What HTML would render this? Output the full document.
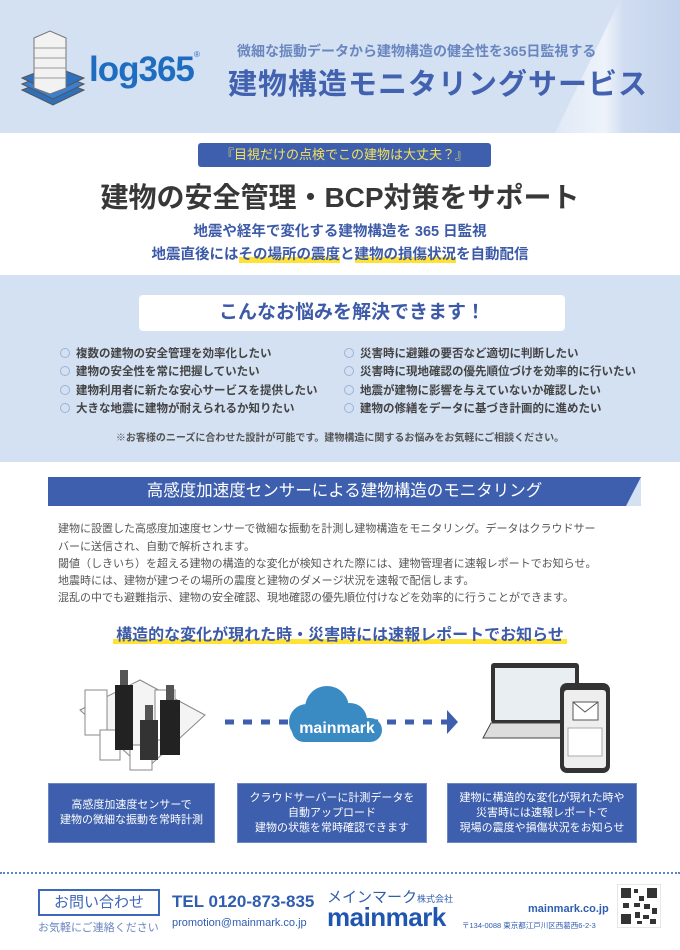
<!DOCTYPE html>
<html><head><meta charset="utf-8"><style>
*{margin:0;padding:0;box-sizing:border-box}
body{width:680px;height:950px;position:relative;background:#fff;font-family:"Liberation Sans","Noto Sans CJK JP",sans-serif;overflow:hidden}
.a{position:absolute;white-space:nowrap}
.li{position:absolute;font-size:11.5px;color:#444;font-weight:bold;white-space:nowrap}
.li:before{content:"";display:inline-block;width:8px;height:8px;border:1px solid #9db3d8;border-radius:50%;margin-right:6px;vertical-align:-1px}
.p{position:absolute;left:58px;font-size:11px;color:#555;white-space:nowrap}
.box{position:absolute;top:783px;height:60px;background:#3d5fae;color:#fff;font-size:11px;line-height:15px;text-align:center;display:flex;align-items:center;justify-content:center;border:1px solid #6c87c4}
.hl{background:linear-gradient(transparent 62%,#ffe233 62%)}
</style></head><body>
<div class="a" style="left:0;top:0;width:680px;height:133px;background:#d3e1f3"></div>
<svg class="a" style="left:0;top:0" width="680" height="133"><defs><linearGradient id="g" x1="0" x2="1"><stop offset="0" stop-color="#dfe9f6"/><stop offset="0.4" stop-color="#eef3fa"/><stop offset="0.55" stop-color="#d0ddf1"/><stop offset="1" stop-color="#c3d3ec"/></linearGradient></defs><polygon points="555,133 620,0 680,0 680,133" fill="url(#g)"/></svg>
<svg class="a" style="left:18px;top:30px" width="70" height="80" viewBox="0 0 70 80">
<polygon points="4,60 35,48 66,60 35,75" fill="#2f70bd" stroke="#555" stroke-width="1"/>
<polygon points="4,54 35,42 66,54 35,69" fill="#3b7fd0" stroke="#555" stroke-width="1"/>
<polygon points="4,48 35,36 66,48 35,63" fill="#2f70bd" stroke="#555" stroke-width="1"/>
<polygon points="16,8 32,1 48,8 48,58 32,64 16,58" fill="#f2f2f2" stroke="#777"/>
<line x1="16" y1="18" x2="48" y2="18" stroke="#999"/><line x1="16" y1="28" x2="48" y2="28" stroke="#999"/><line x1="16" y1="38" x2="48" y2="38" stroke="#999"/><line x1="16" y1="48" x2="48" y2="48" stroke="#999"/>
</svg>
<div class="a" style="left:89px;top:50px;font-size:35px;font-weight:bold;color:#1f6dc0;letter-spacing:-1px">log365</div>
<div class="a" style="left:194px;top:50px;font-size:8px;color:#1f6dc0">®</div>
<div class="a" style="left:237px;top:41px;font-size:14px;color:#6a86bf;font-weight:bold">微細な振動データから建物構造の健全性を365日監視する</div>
<div class="a" style="left:228px;top:61px;font-size:29px;font-weight:bold;color:#4262b0;letter-spacing:1px">建物構造モニタリングサービス</div>

<div class="a" style="left:198px;top:143px;width:293px;height:24px;background:#3d5fae;border-radius:3px;color:#f5e15a;font-size:13px;text-align:center;line-height:24px">『目視だけの点検でこの建物は大丈夫？』</div>
<div class="a" style="left:0;top:176px;width:680px;text-align:center;font-size:28px;font-weight:bold;color:#383838">建物の安全管理・BCP対策をサポート</div>
<div class="a" style="left:0;top:220px;width:680px;text-align:center;font-size:14.5px;font-weight:bold;color:#3c5aa8">地震や経年で変化する建物構造を 365 日監視</div>
<div class="a" style="left:0;top:243px;width:680px;text-align:center;font-size:14.5px;font-weight:bold;color:#3c5aa8">地震直後には<span class="hl">その場所の震度</span>と<span class="hl">建物の損傷状況</span>を自動配信</div>

<div class="a" style="left:0;top:275px;width:680px;height:187px;background:#d3e1f3"></div>
<div class="a" style="left:139px;top:295px;width:426px;height:36px;background:#fff;border-radius:4px;text-align:center;line-height:36px;font-size:19px;font-weight:bold;color:#3c5aa8">こんなお悩みを解決できます！</div>
<div class="li" style="left:60px;top:345px">複数の建物の安全管理を効率化したい</div>
<div class="li" style="left:60px;top:363px">建物の安全性を常に把握していたい</div>
<div class="li" style="left:60px;top:382px">建物利用者に新たな安心サービスを提供したい</div>
<div class="li" style="left:60px;top:400px">大きな地震に建物が耐えられるか知りたい</div>
<div class="li" style="left:344px;top:345px">災害時に避難の要否など適切に判断したい</div>
<div class="li" style="left:344px;top:363px">災害時に現地確認の優先順位づけを効率的に行いたい</div>
<div class="li" style="left:344px;top:382px">地震が建物に影響を与えていないか確認したい</div>
<div class="li" style="left:344px;top:400px">建物の修繕をデータに基づき計画的に進めたい</div>
<div class="a" style="left:0;top:429px;width:680px;text-align:center;font-size:10px;color:#555;font-weight:bold">※お客様のニーズに合わせた設計が可能です。建物構造に関するお悩みをお気軽にご相談ください。</div>

<div class="a" style="left:48px;top:477px;width:593px;height:29px;background:#3d5fae"></div>
<svg class="a" style="left:620px;top:477px" width="21" height="29"><polygon points="21,0 21,29 6,29" fill="#d3e1f3"/></svg>
<div class="a" style="left:48px;top:477px;width:593px;height:29px;line-height:29px;text-align:center;color:#fff;font-size:16.5px">高感度加速度センサーによる建物構造のモニタリング</div>
<div class="p" style="top:520px">建物に設置した高感度加速度センサーで微細な振動を計測し建物構造をモニタリング。データはクラウドサー</div>
<div class="p" style="top:538px">バーに送信され、自動で解析されます。</div>
<div class="p" style="top:555px">閾値（しきいち）を超える建物の構造的な変化が検知された際には、建物管理者に速報レポートでお知らせ。</div>
<div class="p" style="top:572px">地震時には、建物が建つその場所の震度と建物のダメージ状況を速報で配信します。</div>
<div class="p" style="top:589px">混乱の中でも避難指示、建物の安全確認、現地確認の優先順位付けなどを効率的に行うことができます。</div>

<div class="a" style="left:0;top:621px;width:680px;text-align:center;font-size:16px;font-weight:bold;color:#3c5aa8"><span style="background:linear-gradient(transparent 70%,#ffe233 70%);padding:0 3px">構造的な変化が現れた時・災害時には速報レポートでお知らせ</span></div>

<svg class="a" style="left:70px;top:660px" width="140" height="120" viewBox="0 0 140 120">
<polygon points="10,50 70,20 135,55 75,110" fill="#f4f4f4" stroke="#888"/>
<g fill="#fff" stroke="#888"><rect x="15" y="30" width="22" height="45"/><rect x="85" y="30" width="20" height="50"/><rect x="60" y="85" width="22" height="25"/><rect x="30" y="70" width="20" height="30"/></g>
<rect x="45" y="25" width="18" height="65" fill="#222"/>
<rect x="90" y="40" width="20" height="55" fill="#222"/>
<rect x="70" y="60" width="18" height="40" fill="#333"/>
<g fill="#555"><rect x="50" y="10" width="8" height="15"/><rect x="96" y="25" width="8" height="15"/><rect x="75" y="45" width="8" height="15"/></g>
</svg>
<svg class="a" style="left:222px;top:680px" width="240" height="75">
<line x1="3" y1="42" x2="225" y2="42" stroke="#3d5fae" stroke-width="5" stroke-dasharray="9,9"/>
<polygon points="225,30 236,42 225,54" fill="#3d5fae"/>
<g fill="#3a8bc4"><circle cx="105" cy="28" r="22"/><circle cx="85" cy="42" r="18"/><circle cx="128" cy="40" r="17"/><rect x="70" y="38" width="90" height="24" rx="12"/></g>
<text x="115" y="53" text-anchor="middle" font-family="Liberation Sans" font-weight="bold" font-size="16" fill="#fff">mainmark</text>
</svg>
<svg class="a" style="left:475px;top:660px" width="145" height="120">
<rect x="16" y="3" width="88" height="60" rx="3" fill="#333"/><rect x="20" y="8" width="80" height="52" fill="#e9eef2"/>
<polygon points="8,78 16,63 104,63 112,78" fill="#ddd" stroke="#444"/>
<rect x="85" y="23" width="50" height="90" rx="7" fill="#333"/><rect x="89" y="30" width="42" height="78" rx="3" fill="#eee"/>
<rect x="98" y="42" width="25" height="18" fill="#fff" stroke="#555"/><polyline points="98,42 110,52 123,42" fill="none" stroke="#555"/>
<rect x="93" y="68" width="34" height="28" fill="#fff" stroke="#aaa"/>
</svg>

<div class="box" style="left:48px;width:167px">高感度加速度センサーで<br>建物の微細な振動を常時計測</div>
<div class="box" style="left:237px;width:190px">クラウドサーバーに計測データを<br>自動アップロード<br>建物の状態を常時確認できます</div>
<div class="box" style="left:447px;width:190px">建物に構造的な変化が現れた時や<br>災害時には速報レポートで<br>現場の震度や損傷状況をお知らせ</div>

<div class="a" style="left:0;top:872px;width:680px;border-top:2px dotted #5b86c6"></div>
<div class="a" style="left:38px;top:889px;width:122px;height:27px;border:2px solid #3d67b8;text-align:center;line-height:23px;font-size:15px;color:#3d67b8">お問い合わせ</div>
<div class="a" style="left:38px;top:919px;font-size:11px;color:#6a86bf">お気軽にご連絡ください</div>
<div class="a" style="left:172px;top:892px;font-size:17px;font-weight:bold;color:#2f5db0">TEL 0120-873-835</div>
<div class="a" style="left:172px;top:917px;font-size:11px;color:#2f5db0">promotion@mainmark.co.jp</div>
<div class="a" style="left:327px;top:886px;font-size:15px;color:#2f5db0">メインマーク<span style="font-size:9px">株式会社</span></div>
<div class="a" style="left:327px;top:902px;font-size:26px;font-weight:bold;color:#1f56b0;letter-spacing:-0.5px">mainmark</div>
<div class="a" style="left:528px;top:903px;font-size:11px;font-weight:bold;color:#2f5db0">mainmark.co.jp</div>
<div class="a" style="left:462px;top:920px;font-size:7.5px;color:#2f5db0">〒134-0088 東京都江戸川区西葛西6-2-3</div>
<svg class="a" style="left:617px;top:884px" width="44" height="44"><rect width="44" height="44" fill="#fff" stroke="#ccd"/>
<g fill="#333"><rect x="4" y="4" width="10" height="10"/><rect x="30" y="4" width="10" height="10"/><rect x="4" y="30" width="10" height="10"/><rect x="17" y="5" width="4" height="4"/><rect x="22" y="12" width="5" height="5"/><rect x="17" y="19" width="6" height="4"/><rect x="27" y="20" width="6" height="5"/><rect x="35" y="24" width="5" height="6"/><rect x="18" y="28" width="5" height="6"/><rect x="26" y="31" width="6" height="4"/><rect x="33" y="35" width="6" height="5"/><rect x="20" y="37" width="5" height="3"/><rect x="6" y="19" width="6" height="5"/></g></svg>
</body></html>
